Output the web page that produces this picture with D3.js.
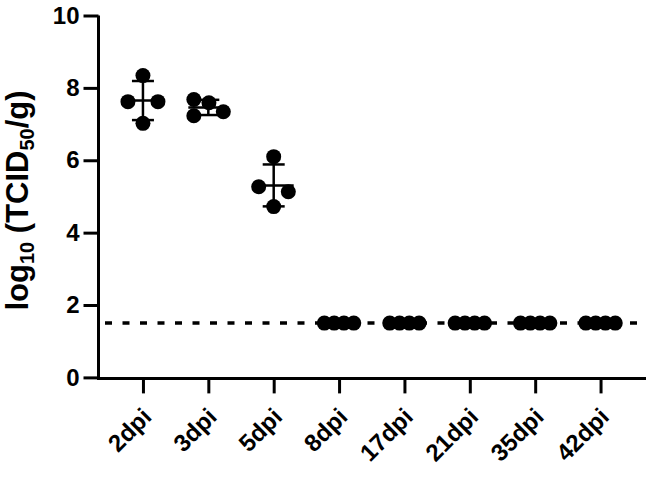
<!DOCTYPE html>
<html>
<head>
<meta charset="utf-8">
<script src="https://cdn.jsdelivr.net/npm/d3@7"></script>
<style>
  html, body { margin: 0; padding: 0; background: #fff; }
  svg { display: block; }
  text { font-family: "Liberation Sans", Arial, sans-serif; font-weight: bold; }
</style>
</head>
<body>
<svg id="chart" width="646" height="477"></svg>
<script>
// ---- data ----
const categories = ["2dpi", "3dpi", "5dpi", "8dpi", "17dpi", "21dpi", "35dpi", "42dpi"];
const values2dpi  = [8.34, 7.62, 7.62, 7.02];
const values3dpi  = [7.68, 7.59, 7.23, 7.34];
const values5dpi  = [6.10, 5.27, 5.13, 4.72];
const values8dpi  = [1.5, 1.5, 1.5, 1.5];
const values17dpi = [1.5, 1.5, 1.5, 1.5];
const values21dpi = [1.5, 1.5, 1.5, 1.5];
const values35dpi = [1.5, 1.5, 1.5, 1.5];
const values42dpi = [1.5, 1.5, 1.5, 1.5];
const yTicks = [0, 2, 4, 6, 8, 10];
const detectionLimit = 1.5;

const seriesValues = [values2dpi, values3dpi, values5dpi, values8dpi,
                      values17dpi, values21dpi, values35dpi, values42dpi];

// horizontal dodge of each scatter point, in units of point radius
const dodge = [
  [0, -2, 2, 0],
  [-1.93, 0.08, -1.93, 2],
  [0, -2, 1.95, 0],
  [-1.96, -0.65, 0.65, 1.96],
  [-1.96, -0.65, 0.65, 1.96],
  [-1.96, -0.65, 0.65, 1.96],
  [-1.96, -0.65, 0.65, 1.96],
  [-1.96, -0.65, 0.65, 1.96]
];

// ---- layout ----
const svg = d3.select("#chart");
const r = 7.5;
const x = d3.scalePoint().domain(categories).range([98.5, 645]).padding(0.68);
const y = d3.scaleLinear().domain([0, 10]).range([377.4, 15.5]);
const axisY0 = y(0) + 1;
const FONT = "'Liberation Sans', Arial, sans-serif";

// dashed detection-limit line
svg.append("line")
  .attr("x1", 105).attr("x2", 639)
  .attr("y1", y(detectionLimit)).attr("y2", y(detectionLimit))
  .attr("stroke", "#000").attr("stroke-width", 3.5)
  .attr("stroke-dasharray", "7,10.5");

// y axis
const yAxis = svg.append("g")
  .attr("transform", "translate(98.5,0)")
  .call(d3.axisLeft(y).tickValues(yTicks).tickFormat(d3.format("d")).tickSize(15).tickSizeOuter(0).tickPadding(4));
yAxis.select(".domain").attr("stroke-width", 3).attr("d", `M0,${y(10)}V${axisY0 + 1.5}`);
yAxis.selectAll(".tick line").attr("stroke-width", 3);
yAxis.selectAll(".tick text").attr("font-size", 24).attr("fill", "#000")
  .style("font-family", FONT).style("font-weight", "bold");

// x axis (ticks from d3, labels drawn rotated)
const xAxis = svg.append("g")
  .attr("transform", `translate(0,${axisY0})`)
  .call(d3.axisBottom(x).tickSize(15).tickSizeOuter(0).tickFormat(""));
xAxis.select(".domain").attr("stroke-width", 3).attr("d", `M97,0H646`);
xAxis.selectAll(".tick line").attr("stroke-width", 3);

const c45 = Math.SQRT1_2;
svg.append("g").selectAll("text.xl").data(categories).enter()
  .append("text").attr("class", "xl")
  .attr("transform", d => `matrix(${c45},${-c45},${c45},${c45},${x(d) + 4},${axisY0 + 34})`)
  .attr("text-anchor", "end")
  .attr("dy", "0.35em")
  .attr("font-size", 24)
  .attr("fill", "#000")
  .style("font-family", FONT).style("font-weight", "bold")
  .text(d => d);

// y title
const title = svg.append("text")
  .attr("transform", `translate(28,${(y(10) + y(0)) / 2 + 4}) rotate(-90)`)
  .attr("text-anchor", "middle")
  .attr("font-size", 31)
  .attr("fill", "#000");
title.append("tspan").text("log");
title.append("tspan").attr("font-size", 20).attr("dy", 6).text("10");
title.append("tspan").attr("dy", -6).text(" (TCID");
title.append("tspan").attr("font-size", 20).attr("dy", 6).text("50");
title.append("tspan").attr("dy", -6).text("/g)");

// groups
const groups = categories.map((c, i) => ({
  cat: c,
  vals: seriesValues[i],
  mean: d3.mean(seriesValues[i]),
  sd: d3.deviation(seriesValues[i]) || 0,
  dodge: dodge[i]
}));

const g = svg.append("g");
groups.forEach(grp => {
  const cx = x(grp.cat);
  const line = (x1, y1, x2, y2) => g.append("line")
    .attr("x1", x1).attr("y1", y1).attr("x2", x2).attr("y2", y2)
    .attr("stroke", "#000").attr("stroke-width", 2.5);
  line(cx - 20, y(grp.mean), cx + 20, y(grp.mean));
  if (grp.sd > 0) {
    line(cx, y(grp.mean + grp.sd), cx, y(grp.mean - grp.sd));
    line(cx - 11, y(grp.mean + grp.sd), cx + 11, y(grp.mean + grp.sd));
    line(cx - 11, y(grp.mean - grp.sd), cx + 11, y(grp.mean - grp.sd));
  }
  g.selectAll(null).data(grp.vals).enter().append("circle")
    .attr("cx", (d, j) => cx + grp.dodge[j] * r)
    .attr("cy", d => y(d))
    .attr("r", r)
    .attr("fill", "#000");
});
</script>
</body>
</html>
